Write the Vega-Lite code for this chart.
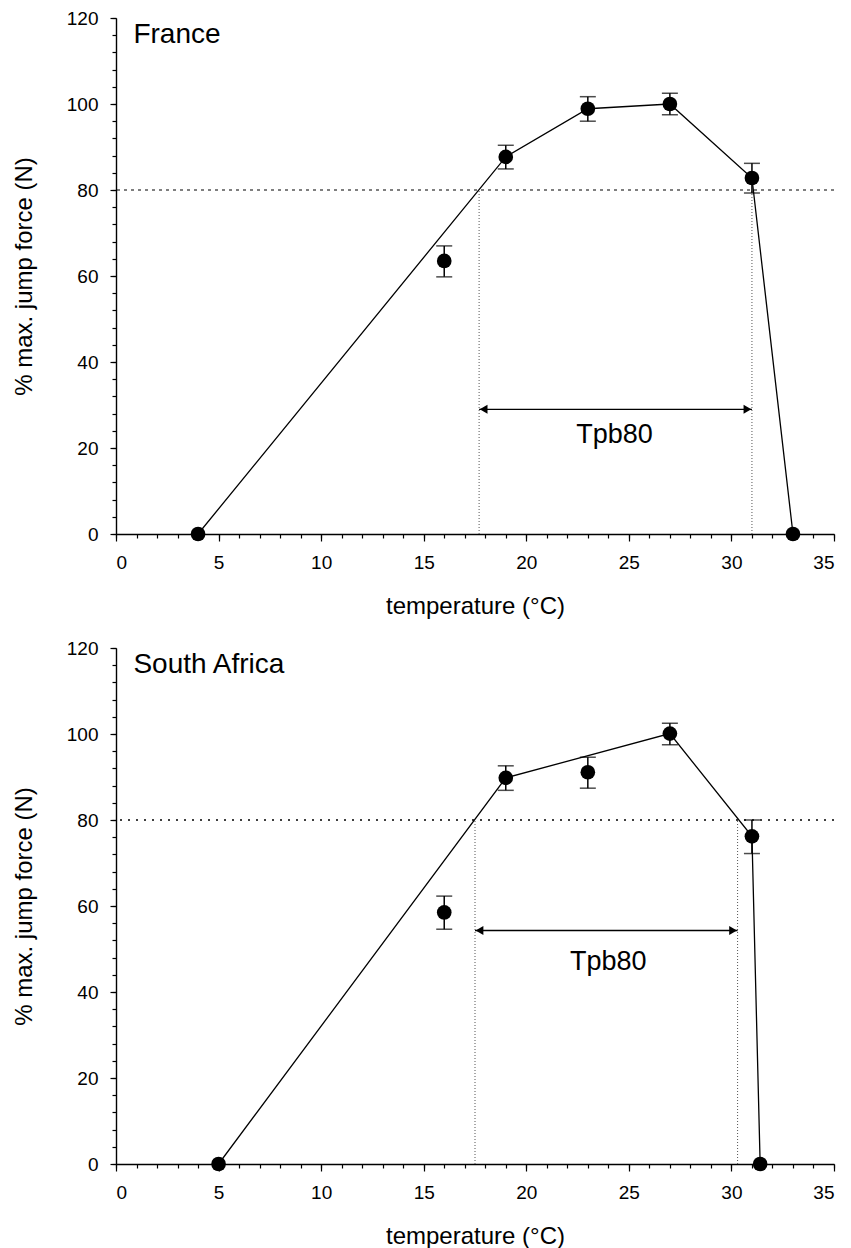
{
  "$schema": "https://vega.github.io/schema/vega-lite/v6.json",
  "padding": {"left": 12, "top": 9, "right": 5, "bottom": 2},
  "config": {
    "view": {"stroke": null},
    "font": "Liberation Sans",
    "axis": {
      "grid": false,
      "domainColor": "black",
      "domainWidth": 1.4,
      "tickColor": "black",
      "tickWidth": 1.2,
      "labelColor": "black",
      "titleColor": "black",
      "labelFontSize": 19,
      "titleFontSize": 24,
      "titleFontWeight": "normal",
      "labelPadding": 12
    }
  },
  "spacing": 21,
  "datasets": {
    "fr_pts": [
      {"t": 4, "v": 0},
      {"t": 16, "v": 63.5, "lo": 59.8, "hi": 67.0},
      {"t": 19, "v": 87.7, "lo": 84.9, "hi": 90.4},
      {"t": 23, "v": 98.9, "lo": 96.0, "hi": 101.7},
      {"t": 27, "v": 100.0, "lo": 97.5, "hi": 102.5},
      {"t": 31, "v": 82.8, "lo": 79.3, "hi": 86.2},
      {"t": 33, "v": 0}
    ],
    "fr_line": [
      {"t": 4, "v": 0},
      {"t": 19, "v": 87.7},
      {"t": 23, "v": 98.9},
      {"t": 27, "v": 100.0},
      {"t": 31, "v": 82.8},
      {"t": 33, "v": 0}
    ],
    "fr_ann": [
      {"country": "France", "threshold": 80, "left": 17.7, "right": 31.0, "arrowY": 29, "labelX": 24.3, "labelY": 23}
    ],
    "sa_pts": [
      {"t": 5, "v": 0},
      {"t": 16, "v": 58.5, "lo": 54.6, "hi": 62.3},
      {"t": 19, "v": 89.8, "lo": 86.9, "hi": 92.6},
      {"t": 23, "v": 91.1, "lo": 87.4, "hi": 94.6},
      {"t": 27, "v": 100.1, "lo": 97.5, "hi": 102.5},
      {"t": 31, "v": 76.2, "lo": 72.2, "hi": 80.0},
      {"t": 31.4, "v": 0}
    ],
    "sa_line": [
      {"t": 5, "v": 0},
      {"t": 19, "v": 89.8},
      {"t": 27, "v": 100.1},
      {"t": 31, "v": 76.2},
      {"t": 31.4, "v": 0}
    ],
    "sa_ann": [
      {"country": "South Africa", "threshold": 80, "left": 17.5, "right": 30.3, "arrowY": 54.3, "labelX": 24.0, "labelY": 47}
    ]
  },
  "vconcat": [
    {
      "width": 718,
      "height": 516,
      "resolve": {"axis": {"x": "independent", "y": "independent"}},
      "layer": [
        {
          "data": {"name": "fr_ann"},
          "mark": {"type": "rule", "color": "black", "strokeWidth": 1.2, "strokeDash": [3, 4]},
          "encoding": {"y": {"field": "threshold", "type": "quantitative", "scale": {"domain": [0, 120], "nice": false}, "axis": null}}
        },
        {
          "data": {"name": "fr_ann"},
          "transform": [{"fold": ["left", "right"], "as": ["side", "pos"]}],
          "mark": {"type": "rule", "color": "#555", "strokeWidth": 1, "strokeDash": [1, 2]},
          "encoding": {
            "x": {"field": "pos", "type": "quantitative", "scale": {"domain": [0, 35], "nice": false}, "axis": null},
            "y": {"datum": 0, "type": "quantitative", "axis": null},
            "y2": {"datum": 80}
          }
        },
        {
          "data": {"name": "fr_ann"},
          "mark": {"type": "rule", "color": "black", "strokeWidth": 1.3},
          "encoding": {
            "x": {"field": "left", "type": "quantitative", "axis": null},
            "x2": {"field": "right"},
            "y": {"field": "arrowY", "type": "quantitative", "axis": null}
          }
        },
        {
          "data": {"name": "fr_ann"},
          "mark": {"type": "point", "shape": "triangle-left", "filled": true, "color": "black", "opacity": 1, "size": 80, "xOffset": 4.5},
          "encoding": {
            "x": {"field": "left", "type": "quantitative", "axis": null},
            "y": {"field": "arrowY", "type": "quantitative", "axis": null}
          }
        },
        {
          "data": {"name": "fr_ann"},
          "mark": {"type": "point", "shape": "triangle-right", "filled": true, "color": "black", "opacity": 1, "size": 80, "xOffset": -4.5},
          "encoding": {
            "x": {"field": "right", "type": "quantitative", "axis": null},
            "y": {"field": "arrowY", "type": "quantitative", "axis": null}
          }
        },
        {
          "data": {"name": "fr_ann"},
          "mark": {"type": "text", "fontSize": 27, "color": "black", "align": "center", "baseline": "middle"},
          "encoding": {
            "x": {"field": "labelX", "type": "quantitative", "axis": null},
            "y": {"field": "labelY", "type": "quantitative", "axis": null},
            "text": {"value": "Tpb80"}
          }
        },
        {
          "data": {"name": "fr_ann"},
          "mark": {"type": "text", "fontSize": 28, "color": "black", "align": "left", "baseline": "middle"},
          "encoding": {
            "x": {"datum": 0.85, "type": "quantitative", "axis": null},
            "y": {"datum": 116, "type": "quantitative", "axis": null},
            "text": {"field": "country"}
          }
        },
        {
          "data": {"name": "fr_line"},
          "mark": {"type": "line", "color": "black", "strokeWidth": 1.3},
          "encoding": {
            "x": {"field": "t", "type": "quantitative", "axis": {"orient": "bottom", "values": [0, 5, 10, 15, 20, 25, 30, 35], "title": "temperature (°C)", "tickSize": 7, "titlePadding": 22}},
            "y": {"field": "v", "type": "quantitative", "axis": {"orient": "left", "values": [0, 20, 40, 60, 80, 100, 120], "title": "% max. jump force (N)", "tickSize": 6, "titlePadding": 30}}
          }
        },
        {
          "data": {"name": "fr_pts"},
          "transform": [{"filter": "datum.lo != null"}],
          "mark": {"type": "errorbar", "ticks": {"size": 16, "thickness": 1.5, "color": "black"}, "rule": {"strokeWidth": 1.5, "color": "black"}},
          "encoding": {
            "x": {"field": "t", "type": "quantitative", "axis": null},
            "y": {"field": "lo", "type": "quantitative", "axis": null},
            "y2": {"field": "hi"}
          }
        },
        {
          "data": {"name": "fr_pts"},
          "mark": {"type": "point", "shape": "circle", "filled": true, "color": "black", "opacity": 1, "size": 215},
          "encoding": {
            "x": {"field": "t", "type": "quantitative", "axis": {"orient": "bottom", "values": [0,1,2,3,4,5,6,7,8,9,10,11,12,13,14,15,16,17,18,19,20,21,22,23,24,25,26,27,28,29,30,31,32,33,34,35], "labels": false, "domain": false, "title": null, "tickSize": 4}},
            "y": {"field": "v", "type": "quantitative", "axis": {"orient": "left", "values": [0,4,8,12,16,20,24,28,32,36,40,44,48,52,56,60,64,68,72,76,80,84,88,92,96,100,104,108,112,116,120], "labels": false, "domain": false, "title": null, "tickSize": 4}}
          }
        }
      ]
    },
    {
      "width": 718,
      "height": 516,
      "resolve": {"axis": {"x": "independent", "y": "independent"}},
      "layer": [
        {
          "data": {"name": "sa_ann"},
          "mark": {"type": "rule", "color": "black", "strokeWidth": 1.4, "strokeDash": [2, 6]},
          "encoding": {"y": {"field": "threshold", "type": "quantitative", "scale": {"domain": [0, 120], "nice": false}, "axis": null}}
        },
        {
          "data": {"name": "sa_ann"},
          "transform": [{"fold": ["left", "right"], "as": ["side", "pos"]}],
          "mark": {"type": "rule", "color": "#555", "strokeWidth": 1, "strokeDash": [1, 2]},
          "encoding": {
            "x": {"field": "pos", "type": "quantitative", "scale": {"domain": [0, 35], "nice": false}, "axis": null},
            "y": {"datum": 0, "type": "quantitative", "axis": null},
            "y2": {"datum": 80}
          }
        },
        {
          "data": {"name": "sa_ann"},
          "mark": {"type": "rule", "color": "black", "strokeWidth": 1.3},
          "encoding": {
            "x": {"field": "left", "type": "quantitative", "axis": null},
            "x2": {"field": "right"},
            "y": {"field": "arrowY", "type": "quantitative", "axis": null}
          }
        },
        {
          "data": {"name": "sa_ann"},
          "mark": {"type": "point", "shape": "triangle-left", "filled": true, "color": "black", "opacity": 1, "size": 80, "xOffset": 4.5},
          "encoding": {
            "x": {"field": "left", "type": "quantitative", "axis": null},
            "y": {"field": "arrowY", "type": "quantitative", "axis": null}
          }
        },
        {
          "data": {"name": "sa_ann"},
          "mark": {"type": "point", "shape": "triangle-right", "filled": true, "color": "black", "opacity": 1, "size": 80, "xOffset": -4.5},
          "encoding": {
            "x": {"field": "right", "type": "quantitative", "axis": null},
            "y": {"field": "arrowY", "type": "quantitative", "axis": null}
          }
        },
        {
          "data": {"name": "sa_ann"},
          "mark": {"type": "text", "fontSize": 27, "color": "black", "align": "center", "baseline": "middle"},
          "encoding": {
            "x": {"field": "labelX", "type": "quantitative", "axis": null},
            "y": {"field": "labelY", "type": "quantitative", "axis": null},
            "text": {"value": "Tpb80"}
          }
        },
        {
          "data": {"name": "sa_ann"},
          "mark": {"type": "text", "fontSize": 28, "color": "black", "align": "left", "baseline": "middle"},
          "encoding": {
            "x": {"datum": 0.85, "type": "quantitative", "axis": null},
            "y": {"datum": 116, "type": "quantitative", "axis": null},
            "text": {"field": "country"}
          }
        },
        {
          "data": {"name": "sa_line"},
          "mark": {"type": "line", "color": "black", "strokeWidth": 1.3},
          "encoding": {
            "x": {"field": "t", "type": "quantitative", "axis": {"orient": "bottom", "values": [0, 5, 10, 15, 20, 25, 30, 35], "title": "temperature (°C)", "tickSize": 7, "titlePadding": 22}},
            "y": {"field": "v", "type": "quantitative", "axis": {"orient": "left", "values": [0, 20, 40, 60, 80, 100, 120], "title": "% max. jump force (N)", "tickSize": 6, "titlePadding": 30}}
          }
        },
        {
          "data": {"name": "sa_pts"},
          "transform": [{"filter": "datum.lo != null"}],
          "mark": {"type": "errorbar", "ticks": {"size": 16, "thickness": 1.5, "color": "black"}, "rule": {"strokeWidth": 1.5, "color": "black"}},
          "encoding": {
            "x": {"field": "t", "type": "quantitative", "axis": null},
            "y": {"field": "lo", "type": "quantitative", "axis": null},
            "y2": {"field": "hi"}
          }
        },
        {
          "data": {"name": "sa_pts"},
          "mark": {"type": "point", "shape": "circle", "filled": true, "color": "black", "opacity": 1, "size": 215},
          "encoding": {
            "x": {"field": "t", "type": "quantitative", "axis": {"orient": "bottom", "values": [0,1,2,3,4,5,6,7,8,9,10,11,12,13,14,15,16,17,18,19,20,21,22,23,24,25,26,27,28,29,30,31,32,33,34,35], "labels": false, "domain": false, "title": null, "tickSize": 4}},
            "y": {"field": "v", "type": "quantitative", "axis": {"orient": "left", "values": [0,4,8,12,16,20,24,28,32,36,40,44,48,52,56,60,64,68,72,76,80,84,88,92,96,100,104,108,112,116,120], "labels": false, "domain": false, "title": null, "tickSize": 4}}
          }
        }
      ]
    }
  ]
}
